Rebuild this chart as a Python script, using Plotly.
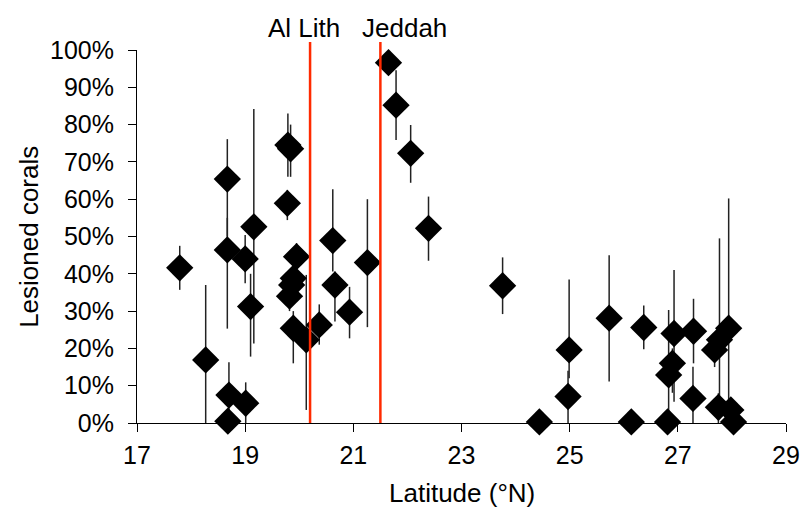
import plotly.graph_objects as go

# Latitude (°N) of each site
lat = [17.79, 18.27, 18.68, 18.70, 19.01, 18.67, 18.67, 19.00, 19.16, 19.10,
       19.79, 19.84, 19.78, 19.95, 19.89, 19.86, 19.82, 19.89, 20.13, 20.37,
       20.62, 20.66, 20.93, 21.26, 21.65, 21.79, 22.06, 22.39, 23.76, 24.44,
       24.99, 24.97, 25.73, 26.14, 26.37, 26.81, 26.83, 26.90, 26.93, 27.29,
       27.28, 27.68, 27.77, 27.94, 27.75, 27.98, 28.03]
# Lesioned corals (%)
lesioned = [41.6, 16.9, 0.5, 7.5, 5.3, 65.4, 46.4, 44.0, 52.6, 31.2,
            74.5, 73.5, 58.9, 44.6, 38.8, 37.0, 34.0, 25.4, 22.3, 26.3,
            48.9, 37.0, 29.7, 43.0, 96.6, 85.2, 72.3, 52.2, 36.8, 0.3,
            19.6, 7.1, 28.1, 0.3, 25.6, 0.3, 12.9, 16.0, 24.0, 24.6,
            6.6, 19.6, 22.3, 25.4, 4.2, 3.5, 0.3]
# upper / lower error amounts (%)
err_up = [5.9, 20.1, 0, 8.8, 5.6, 10.7, 8.6, 6.4, 31.6, 8.8,
          8.5, 6.5, 3.6, 3.6, 3.2, 3.0, 3.0, 4.6, 17.4, 5.5,
          13.8, 3.6, 6.8, 17.0, 0, 9.4, 7.6, 8.5, 7.6, 0,
          18.9, 6.9, 16.9, 0, 5.9, 0, 17.4, 4.0, 17.0, 8.7,
          8.5, 4.4, 27.2, 34.8, 3.8, 2.5, 0]
err_down = [5.9, 16.9, 0, 7.5, 5.3, 15.4, 21.1, 6.5, 31.3, 13.4,
            8.5, 7.5, 4.5, 3.6, 3.8, 4.0, 4.0, 9.4, 18.8, 5.3,
            8.3, 9.8, 7.0, 17.3, 0, 9.3, 7.9, 8.7, 7.6, 0,
            7.6, 7.1, 17.0, 0, 5.8, 0, 12.9, 7.9, 18.3, 8.6,
            6.6, 4.6, 21.3, 23.4, 4.2, 2.5, 0]

cities = ["Al Lith", "Jeddah"]
city_lat = [20.2, 21.5]
label_lat = [20.09, 21.94]

x_ticks = [17, 19, 21, 23, 25, 27, 29]
y_ticks = list(range(0, 101, 10))
y_ticktext = [f"{v}%" for v in y_ticks]

FONT = "Liberation Sans, Arial, Helvetica, sans-serif"
TXT = 26
TICK = 25

fig = go.Figure()
fig.add_trace(go.Scatter(
    x=lat, y=lesioned, mode="markers",
    marker=dict(symbol="diamond", size=21, color="black", line=dict(width=0)),
    error_y=dict(type="data", symmetric=False, array=err_up, arrayminus=err_down,
                 color="#222222", thickness=1.5, width=0),
    cliponaxis=False, showlegend=False,
))

for cx in city_lat:
    fig.add_shape(type="line", x0=cx, x1=cx, y0=0, y1=1.0215, xref="x", yref="paper",
                  line=dict(color="#FF2A00", width=2.5), layer="above")

for name, lx in zip(cities, label_lat):
    fig.add_annotation(x=lx, y=1.059, xref="x", yref="paper", text=name, showarrow=False,
                       yanchor="middle", xanchor="center",
                       font=dict(size=TXT, color="black", family=FONT))

fig.add_annotation(x=0.5, y=-0.188, xref="paper", yref="paper", text="Latitude (°N)",
                   showarrow=False, xanchor="center", yanchor="middle",
                   font=dict(size=TXT, color="black", family=FONT))
fig.add_annotation(x=-0.1674, y=0.5, xref="paper", yref="paper", text="Lesioned corals",
                   showarrow=False, xanchor="center", yanchor="middle", textangle=-90,
                   font=dict(size=TXT, color="black", family=FONT))

fig.update_layout(
    width=812, height=514,
    margin=dict(l=137, r=18, t=50, b=91),
    paper_bgcolor="white", plot_bgcolor="white",
    font=dict(family=FONT, size=22, color="black"),
    xaxis=dict(range=[17, 29], tickvals=x_ticks, ticks="outside", ticklen=8,
               tickcolor="black", showline=True, linecolor="black", linewidth=1,
               showgrid=False, zeroline=False, ticklabelstandoff=2,
               tickfont=dict(size=TICK)),
    yaxis=dict(range=[0, 100], tickvals=y_ticks, ticktext=y_ticktext, ticks="outside",
               ticklen=8, tickcolor="black", showline=True, linecolor="black",
               linewidth=1, showgrid=False, zeroline=False, ticklabelstandoff=9,
               tickfont=dict(size=TICK)),
)

fig.write_html("out.html")
